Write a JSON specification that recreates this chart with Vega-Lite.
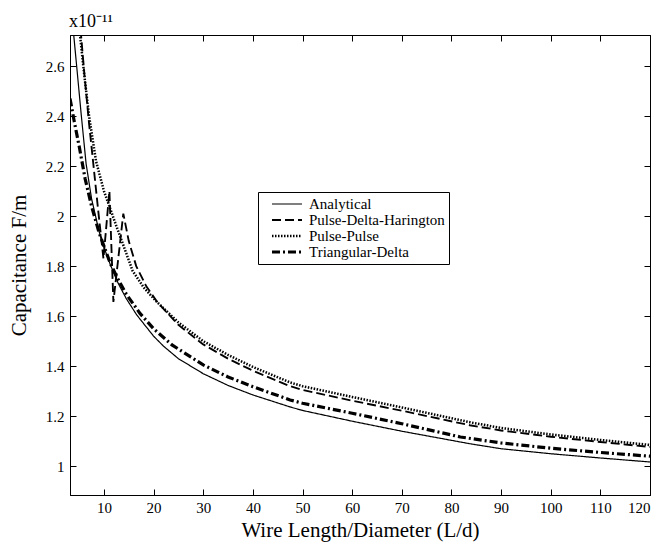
{
  "$schema": "https://vega.github.io/schema/vega-lite/v6.json",
  "width": 580,
  "height": 460,
  "autosize": {"type": "none"},
  "padding": {"left": 70, "top": 35, "right": 12, "bottom": 51},
  "background": "white",
  "title": {"text": "x10⁻¹¹", "anchor": "start", "frame": "group", "font": "Liberation Serif", "fontSize": 18, "fontWeight": "normal", "color": "black", "offset": 4, "dx": -1},
  "config": {
    "view": {"stroke": "black", "strokeWidth": 1},
    "axis": {"labelFont": "Liberation Serif", "titleFont": "Liberation Serif", "labelColor": "black", "titleColor": "black", "domainColor": "black", "tickColor": "black", "labelFontSize": 15, "titleFontSize": 21, "titleFontWeight": "normal", "grid": false, "labelOverlap": false}
  },
  "data": {"values": [
    {"x": 3.5, "C": 2.9, "m": "Analytical"},
    {"x": 3.88, "C": 2.73, "m": "Analytical"},
    {"x": 4.5, "C": 2.6, "m": "Analytical"},
    {"x": 5.4, "C": 2.41, "m": "Analytical"},
    {"x": 6.4, "C": 2.21, "m": "Analytical"},
    {"x": 7.5, "C": 2.07, "m": "Analytical"},
    {"x": 9, "C": 1.94, "m": "Analytical"},
    {"x": 10, "C": 1.875, "m": "Analytical"},
    {"x": 11.3, "C": 1.805, "m": "Analytical"},
    {"x": 12.9, "C": 1.73, "m": "Analytical"},
    {"x": 14.5, "C": 1.67, "m": "Analytical"},
    {"x": 16.6, "C": 1.605, "m": "Analytical"},
    {"x": 20, "C": 1.52, "m": "Analytical"},
    {"x": 22, "C": 1.48, "m": "Analytical"},
    {"x": 25, "C": 1.43, "m": "Analytical"},
    {"x": 30, "C": 1.37, "m": "Analytical"},
    {"x": 35, "C": 1.323, "m": "Analytical"},
    {"x": 40, "C": 1.285, "m": "Analytical"},
    {"x": 47.5, "C": 1.237, "m": "Analytical"},
    {"x": 50, "C": 1.223, "m": "Analytical"},
    {"x": 60, "C": 1.18, "m": "Analytical"},
    {"x": 70, "C": 1.14, "m": "Analytical"},
    {"x": 83.7, "C": 1.09, "m": "Analytical"},
    {"x": 90, "C": 1.07, "m": "Analytical"},
    {"x": 100, "C": 1.05, "m": "Analytical"},
    {"x": 110, "C": 1.033, "m": "Analytical"},
    {"x": 120, "C": 1.017, "m": "Analytical"},

    {"x": 5.0, "C": 2.85, "m": "Pulse-Delta-Harington"},
    {"x": 5.4, "C": 2.72, "m": "Pulse-Delta-Harington"},
    {"x": 6, "C": 2.58, "m": "Pulse-Delta-Harington"},
    {"x": 7, "C": 2.37, "m": "Pulse-Delta-Harington"},
    {"x": 7.8, "C": 2.22, "m": "Pulse-Delta-Harington"},
    {"x": 8.8, "C": 2.03, "m": "Pulse-Delta-Harington"},
    {"x": 9.9, "C": 1.83, "m": "Pulse-Delta-Harington"},
    {"x": 11.1, "C": 2.1, "m": "Pulse-Delta-Harington"},
    {"x": 11.9, "C": 1.657, "m": "Pulse-Delta-Harington"},
    {"x": 13.9, "C": 2.01, "m": "Pulse-Delta-Harington"},
    {"x": 15, "C": 1.9, "m": "Pulse-Delta-Harington"},
    {"x": 16.5, "C": 1.8, "m": "Pulse-Delta-Harington"},
    {"x": 18.5, "C": 1.72, "m": "Pulse-Delta-Harington"},
    {"x": 20.8, "C": 1.655, "m": "Pulse-Delta-Harington"},
    {"x": 25, "C": 1.565, "m": "Pulse-Delta-Harington"},
    {"x": 30, "C": 1.487, "m": "Pulse-Delta-Harington"},
    {"x": 35, "C": 1.43, "m": "Pulse-Delta-Harington"},
    {"x": 40, "C": 1.382, "m": "Pulse-Delta-Harington"},
    {"x": 47.5, "C": 1.32, "m": "Pulse-Delta-Harington"},
    {"x": 50, "C": 1.305, "m": "Pulse-Delta-Harington"},
    {"x": 60, "C": 1.262, "m": "Pulse-Delta-Harington"},
    {"x": 70, "C": 1.222, "m": "Pulse-Delta-Harington"},
    {"x": 83.7, "C": 1.164, "m": "Pulse-Delta-Harington"},
    {"x": 90, "C": 1.143, "m": "Pulse-Delta-Harington"},
    {"x": 100, "C": 1.118, "m": "Pulse-Delta-Harington"},
    {"x": 110, "C": 1.097, "m": "Pulse-Delta-Harington"},
    {"x": 120, "C": 1.077, "m": "Pulse-Delta-Harington"},

    {"x": 4.9, "C": 2.8, "m": "Pulse-Pulse"},
    {"x": 5.2, "C": 2.72, "m": "Pulse-Pulse"},
    {"x": 6, "C": 2.57, "m": "Pulse-Pulse"},
    {"x": 7, "C": 2.4, "m": "Pulse-Pulse"},
    {"x": 8.4, "C": 2.22, "m": "Pulse-Pulse"},
    {"x": 10, "C": 2.1, "m": "Pulse-Pulse"},
    {"x": 12.5, "C": 1.96, "m": "Pulse-Pulse"},
    {"x": 15.8, "C": 1.78, "m": "Pulse-Pulse"},
    {"x": 18, "C": 1.715, "m": "Pulse-Pulse"},
    {"x": 20.5, "C": 1.66, "m": "Pulse-Pulse"},
    {"x": 25, "C": 1.575, "m": "Pulse-Pulse"},
    {"x": 30, "C": 1.5, "m": "Pulse-Pulse"},
    {"x": 35, "C": 1.445, "m": "Pulse-Pulse"},
    {"x": 40, "C": 1.397, "m": "Pulse-Pulse"},
    {"x": 47.5, "C": 1.335, "m": "Pulse-Pulse"},
    {"x": 50, "C": 1.32, "m": "Pulse-Pulse"},
    {"x": 60, "C": 1.277, "m": "Pulse-Pulse"},
    {"x": 70, "C": 1.235, "m": "Pulse-Pulse"},
    {"x": 83.7, "C": 1.176, "m": "Pulse-Pulse"},
    {"x": 90, "C": 1.153, "m": "Pulse-Pulse"},
    {"x": 100, "C": 1.127, "m": "Pulse-Pulse"},
    {"x": 110, "C": 1.105, "m": "Pulse-Pulse"},
    {"x": 120, "C": 1.085, "m": "Pulse-Pulse"},

    {"x": 3.16, "C": 2.47, "m": "Triangular-Delta"},
    {"x": 4, "C": 2.38, "m": "Triangular-Delta"},
    {"x": 5, "C": 2.28, "m": "Triangular-Delta"},
    {"x": 6.2, "C": 2.15, "m": "Triangular-Delta"},
    {"x": 7.5, "C": 2.04, "m": "Triangular-Delta"},
    {"x": 9, "C": 1.935, "m": "Triangular-Delta"},
    {"x": 10, "C": 1.88, "m": "Triangular-Delta"},
    {"x": 11.3, "C": 1.81, "m": "Triangular-Delta"},
    {"x": 12.9, "C": 1.745, "m": "Triangular-Delta"},
    {"x": 14.5, "C": 1.688, "m": "Triangular-Delta"},
    {"x": 17.3, "C": 1.61, "m": "Triangular-Delta"},
    {"x": 20, "C": 1.55, "m": "Triangular-Delta"},
    {"x": 23.7, "C": 1.485, "m": "Triangular-Delta"},
    {"x": 30, "C": 1.405, "m": "Triangular-Delta"},
    {"x": 35, "C": 1.357, "m": "Triangular-Delta"},
    {"x": 40, "C": 1.318, "m": "Triangular-Delta"},
    {"x": 47.5, "C": 1.265, "m": "Triangular-Delta"},
    {"x": 50, "C": 1.252, "m": "Triangular-Delta"},
    {"x": 60, "C": 1.212, "m": "Triangular-Delta"},
    {"x": 70, "C": 1.17, "m": "Triangular-Delta"},
    {"x": 81.8, "C": 1.117, "m": "Triangular-Delta"},
    {"x": 90, "C": 1.093, "m": "Triangular-Delta"},
    {"x": 100, "C": 1.072, "m": "Triangular-Delta"},
    {"x": 110, "C": 1.055, "m": "Triangular-Delta"},
    {"x": 120, "C": 1.04, "m": "Triangular-Delta"}
  ]},
  "layer": [
    {
      "mark": {"type": "line", "clip": true, "color": "black"},
      "encoding": {
        "x": {"field": "x", "type": "quantitative", "scale": {"domain": [3.16, 120], "nice": false, "zero": false},
              "axis": {"values": [10,20,30,40,50,60,70,80,90,100,110,120], "format": "d", "tickSize": -6, "labelPadding": 11, "title": "Wire Length/Diameter (L/d)", "titlePadding": 4}},
        "y": {"field": "C", "type": "quantitative", "scale": {"domain": [0.885, 2.724], "nice": false, "zero": false},
              "axis": {"values": [1,1.2,1.4,1.6,1.8,2,2.2,2.4,2.6], "format": "~g", "tickSize": -6, "labelPadding": 12, "title": "Capacitance F/m", "titlePadding": 16}},
        "strokeDash": {"field": "m", "type": "nominal",
          "scale": {"domain": ["Analytical", "Pulse-Delta-Harington", "Pulse-Pulse", "Triangular-Delta"], "range": [[1,0],[9,4],[1.5,1.5],[8,3,2,3]]},
          "legend": {"orient": "none", "legendX": 188, "legendY": 157, "title": null, "strokeColor": "black", "fillColor": "white", "padding": 4, "symbolOffset": 8, "symbolType": "stroke", "symbolSize": 900, "symbolStrokeColor": "black", "labelFont": "Liberation Serif", "labelFontSize": 15, "labelColor": "black", "rowPadding": 0, "clipHeight": 16, "labelOffset": 5, "cornerRadius": 0}},
        "strokeWidth": {"field": "m", "type": "nominal",
          "scale": {"domain": ["Analytical", "Pulse-Delta-Harington", "Pulse-Pulse", "Triangular-Delta"], "range": [1.2, 3.2, 1, 2]}}
      }
    },
    {
      "mark": {"type": "line", "clip": true, "strokeOpacity": 0},
      "encoding": {
        "x": {"field": "x", "type": "quantitative", "axis": {"orient": "top", "values": [10,20,30,40,50,60,70,80,90,100,110,120], "tickSize": -6, "labels": false, "title": null}},
        "y": {"field": "C", "type": "quantitative", "axis": {"orient": "right", "values": [1,1.2,1.4,1.6,1.8,2,2.2,2.4,2.6], "tickSize": -6, "labels": false, "title": null}},
        "detail": {"field": "m", "type": "nominal"}
      }
    }
  ],
  "resolve": {"axis": {"x": "independent", "y": "independent"}}
}
